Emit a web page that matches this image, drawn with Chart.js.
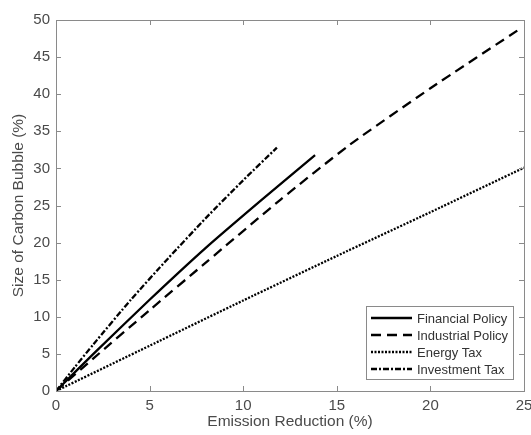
<!DOCTYPE html>
<html>
<head>
<meta charset="utf-8">
<script src="https://cdn.jsdelivr.net/npm/chart.js@4/dist/chart.umd.min.js"></script>
<style>
  html, body { margin: 0; padding: 0; background: #fff; }
  #wrap { width: 531px; height: 435px; }
</style>
</head>
<body>
<div id="wrap"><canvas id="c" width="531" height="435"></canvas></div>
<script>
// ---- data ----
const seriesNames = ["Financial Policy", "Industrial Policy", "Energy Tax", "Investment Tax"];
const financialX = [0, 2, 5, 8, 11, 13.84];
const financialY = [0, 5.0, 12.3, 19.3, 25.8, 31.8];
const industrialX = [0, 2, 5, 8, 12, 15.7, 20, 24.9];
const industrialY = [0, 4.4, 10.9, 17.3, 25.8, 33.2, 40.8, 49.0];
const energyX = [0, 5, 10, 15, 20, 25];
const energyY = [0, 6.1, 12.2, 18.2, 24.1, 30.1];
const investmentX = [0, 1, 2, 4, 6, 8, 10, 11.8];
const investmentY = [0, 3.2, 6.3, 12.3, 17.9, 23.3, 28.4, 32.8];
const xTicks = [0, 5, 10, 15, 20, 25];
const yTicks = [0, 5, 10, 15, 20, 25, 30, 35, 40, 45, 50];
const xTitle = "Emission Reduction (%)";
const yTitle = "Size of Carbon Bubble (%)";

const pts = (xs, ys) => xs.map((x, i) => ({ x: x, y: ys[i] }));
const AXIS = "#8a8a8a";
const TEXT = "#4a4a4a";
const FONT = "'Liberation Sans', Arial, sans-serif";

const styles = [
  { dash: [] },
  { dash: [10, 6] },
  { dash: [2, 1.5] },
  { dash: [6, 2, 2, 2] }
];
const allX = [financialX, industrialX, energyX, investmentX];
const allY = [financialY, industrialY, energyY, investmentY];

const datasets = seriesNames.map((n, i) => ({
  label: n,
  data: pts(allX[i], allY[i]),
  borderColor: "#000",
  borderWidth: 2.3,
  borderDash: styles[i].dash,
  pointRadius: 0,
  fill: false,
  tension: 0.2
}));

const boxTicks = {
  id: "boxTicks",
  afterDatasetsDraw(chart) {
    const { ctx, chartArea: a, scales } = chart;
    ctx.save();
    ctx.strokeStyle = AXIS;
    ctx.lineWidth = 1;
    ctx.strokeRect(a.left + 0.5, a.top + 0.5, a.right - a.left, a.bottom - a.top);
    const L = 5;
    ctx.beginPath();
    xTicks.forEach(v => {
      const p = Math.round(scales.x.getPixelForValue(v)) + 0.5;
      ctx.moveTo(p, a.bottom); ctx.lineTo(p, a.bottom - L);
      ctx.moveTo(p, a.top); ctx.lineTo(p, a.top + L);
    });
    yTicks.forEach(v => {
      const p = Math.round(scales.y.getPixelForValue(v)) + 0.5;
      ctx.moveTo(a.left, p); ctx.lineTo(a.left + L, p);
      ctx.moveTo(a.right, p); ctx.lineTo(a.right - L, p);
    });
    ctx.stroke();
    ctx.restore();
  }
};

const boxLegend = {
  id: "boxLegend",
  afterDraw(chart) {
    const { ctx, chartArea: a } = chart;
    const w = 147, rowH = 17, h = 73;
    const x0 = a.right - 11 - w, y0 = a.bottom - 12 - h;
    ctx.save();
    ctx.fillStyle = "#fff";
    ctx.fillRect(x0, y0, w, h);
    ctx.strokeStyle = AXIS;
    ctx.lineWidth = 1;
    ctx.strokeRect(x0 + 0.5, y0 + 0.5, w, h);
    ctx.font = "13px " + FONT;
    ctx.textBaseline = "middle";
    chart.data.datasets.forEach((ds, i) => {
      const yy = y0 + 12 + i * rowH;
      ctx.strokeStyle = "#000";
      ctx.lineWidth = 2.3;
      ctx.setLineDash(ds.borderDash);
      ctx.beginPath();
      ctx.moveTo(x0 + 5, yy);
      ctx.lineTo(x0 + 46, yy);
      ctx.stroke();
      ctx.setLineDash([]);
      ctx.fillStyle = "#333";
      ctx.fillText(ds.label, x0 + 51, yy + 1);
    });
    ctx.restore();
  }
};

new Chart(document.getElementById("c"), {
  type: "line",
  data: { datasets: datasets },
  options: {
    responsive: false,
    animation: false,
    devicePixelRatio: 1,
    layout: { padding: { top: 20, right: 7, left: 0, bottom: 0 } },
    plugins: { legend: { display: false }, tooltip: { enabled: false } },
    scales: {
      x: {
        type: "linear",
        min: 0, max: 25,
        afterBuildTicks: s => { s.ticks = xTicks.map(v => ({ value: v })); },
        afterFit: s => { s.height = 44; s.paddingLeft = 0; s.paddingRight = 0; },
        grid: { display: false, drawTicks: false },
        border: { display: false },
        ticks: { color: TEXT, font: { size: 15, family: FONT }, padding: 6, maxRotation: 0 },
        title: { display: true, text: xTitle, color: TEXT, font: { size: 15.5, family: FONT }, padding: { top: 0, bottom: 4 } }
      },
      y: {
        type: "linear",
        min: 0, max: 50,
        afterBuildTicks: s => { s.ticks = yTicks.map(v => ({ value: v })); },
        afterFit: s => { s.width = 56; s.paddingTop = 0; s.paddingBottom = 0; },
        grid: { display: false, drawTicks: false },
        border: { display: false },
        ticks: { color: TEXT, font: { size: 15, family: FONT }, padding: 6 },
        title: { display: true, text: yTitle, color: TEXT, font: { size: 15.5, family: FONT }, padding: { top: 9, bottom: 0 } }
      }
    }
  },
  plugins: [boxTicks, boxLegend]
});
</script>
</body>
</html>
